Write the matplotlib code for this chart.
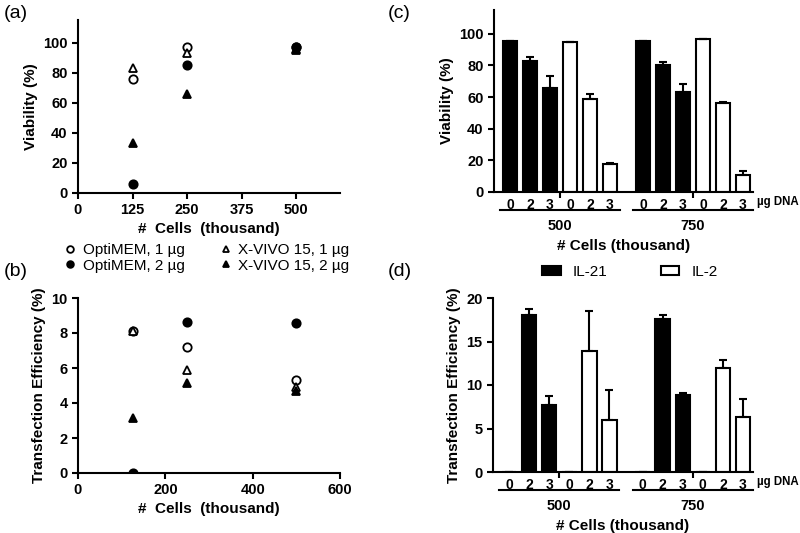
import numpy as np
import matplotlib
matplotlib.use('Agg')
import matplotlib.pyplot as plt
import matplotlib.transforms as mtransforms
from matplotlib.patches import Patch

plt.rcParams['font.family'] = ['Liberation Sans', 'DejaVu Sans']
plt.rcParams['axes.linewidth'] = 1.5

# scatter panels (a), (b)
cells_ab = [125, 250, 500]
series_names = ['OptiMEM, 1 µg', 'OptiMEM, 2 µg', 'X-VIVO 15, 1 µg', 'X-VIVO 15, 2 µg']
viab_opti1 = [76, 97, 97]
viab_opti2 = [6, 85, 97]
viab_xvivo1 = [83, 93, 96]
viab_xvivo2 = [33, 66, 95]
te_opti1 = [8.1, 7.2, 5.3]
te_opti2 = [0.0, 8.65, 8.55]
te_xvivo1 = [8.1, 5.9, 4.9]
te_xvivo2 = [3.15, 5.15, 4.7]

# bar panels (c), (d)
dna_labels = ['0', '2', '3', '0', '2', '3']
cell_groups = ['500', '750']
viab_il21 = [[95.5, 82.5, 66.0], [95.5, 80.5, 63.0]]
viab_il21_err = [[0, 3.0, 7.0], [0, 1.5, 5.5]]
viab_il2 = [[94.5, 59.0, 18.0], [96.5, 56.5, 10.5]]
viab_il2_err = [[0, 3.0, 0.5], [0, 0.5, 3.0]]
te_il21 = [[0.0, 18.0, 7.7], [0.0, 17.6, 8.8]]
te_il21_err = [[0, 0.7, 1.0], [0, 0.4, 0.3]]
te_il2 = [[0.05, 13.9, 6.0], [0.05, 12.0, 6.3]]
te_il2_err = [[0, 4.6, 3.4], [0, 0.9, 2.1]]

W, H = 800, 533
fig = plt.figure(figsize=(8, 5.33), dpi=100)


def px_axes(left, top, right, bottom):
    return fig.add_axes([left / W, 1 - bottom / H, (right - left) / W, (bottom - top) / H])


def style(ax):
    ax.spines['top'].set_visible(False)
    ax.spines['right'].set_visible(False)
    ax.tick_params(direction='out', width=1.5, length=4, labelsize=10.5)
    for lab in ax.get_xticklabels() + ax.get_yticklabels():
        lab.set_fontweight('bold')


mstyles = [dict(marker='o', mfc='white', ms=6), dict(marker='o', mfc='black', ms=6),
           dict(marker='^', mfc='white', ms=6), dict(marker='^', mfc='black', ms=6)]

# (a)
ax_a = px_axes(78, 20, 340, 193)
for vals, ms in zip([viab_opti1, viab_opti2, viab_xvivo1, viab_xvivo2], mstyles):
    ax_a.plot(cells_ab, vals, ls='none', mec='black', mew=1.3, **ms)
ax_a.set_xlim(0, 600)
ax_a.set_ylim(0, 115)
ax_a.set_xticks([0, 125, 250, 375, 500])
ax_a.set_yticks([0, 20, 40, 60, 80, 100])
ax_a.set_ylabel('Viability (%)', fontsize=11, fontweight='bold', labelpad=4)
ax_a.set_xlabel('#  Cells  (thousand)', fontsize=11, fontweight='bold', labelpad=3)
style(ax_a)

# (b)
ax_b = px_axes(78, 298, 340, 473)
handles = []
for vals, ms, name in zip([te_opti1, te_opti2, te_xvivo1, te_xvivo2], mstyles, series_names):
    h, = ax_b.plot(cells_ab, vals, ls='none', mec='black', mew=1.3, label=name, **ms)
    handles.append(h)
ax_b.set_xlim(0, 600)
ax_b.set_ylim(0, 10)
ax_b.set_xticks([0, 200, 400, 600])
ax_b.set_yticks([0, 2, 4, 6, 8, 10])
ax_b.set_ylabel('Transfection Efficiency (%)', fontsize=11, fontweight='bold', labelpad=4)
ax_b.set_xlabel('#  Cells  (thousand)', fontsize=11, fontweight='bold', labelpad=3)
style(ax_b)
fig.legend(handles, series_names, loc='center', bbox_to_anchor=(206 / W, 1 - 258 / H),
           ncol=2, frameon=False, fontsize=11, handletextpad=0.3, columnspacing=2.2,
           labelspacing=0.1, markerscale=0.8, handlelength=1.0)


def bar_panel(ax, il21, il21_err, il2, il2_err, ylim, yticks, ylabel):
    gap = 1.65
    xs_all = []
    for g in range(2):
        base = g * (6 + gap - 1)
        x21 = np.arange(3) + base
        x2 = np.arange(3, 6) + base
        ax.bar(x21, il21[g], width=0.72, color='black', edgecolor='black', lw=1.5)
        ax.bar(x2, il2[g], width=0.72, color='white', edgecolor='black', lw=1.5)
        ax.errorbar(x21, il21[g], yerr=[np.zeros(3), il21_err[g]], fmt='none',
                    ecolor='black', elinewidth=1.5, capsize=3, capthick=1.5)
        ax.errorbar(x2, il2[g], yerr=[np.zeros(3), il2_err[g]], fmt='none',
                    ecolor='black', elinewidth=1.5, capsize=3, capthick=1.5)
        xs_all.extend(list(x21) + list(x2))
    ax.set_xlim(-0.8, xs_all[-1] + 0.5)
    ax.set_ylim(*ylim)
    ax.set_yticks(yticks)
    ax.set_xticks(xs_all)
    ax.set_xticklabels(dna_labels * 2)
    ax.set_xticks([xs_all[2] + 0.5, xs_all[8] + 0.5], minor=True)
    ax.spines['top'].set_visible(False)
    ax.spines['right'].set_visible(False)
    ax.tick_params(axis='y', direction='out', width=1.5, length=4, labelsize=10.5)
    ax.tick_params(axis='x', which='major', length=0, labelsize=10, pad=4)
    ax.tick_params(axis='x', which='minor', direction='out', width=1.5, length=4)
    for lab in ax.get_xticklabels() + ax.get_yticklabels():
        lab.set_fontweight('bold')
    ax.set_ylabel(ylabel, fontsize=11, fontweight='bold', labelpad=4)
    trans = mtransforms.blended_transform_factory(ax.transData, ax.transAxes)
    hpx = ax.get_position().height * H
    wpx = ax.get_position().width * W
    ax.text(1 + 4 / wpx, -10 / hpx, 'µg DNA', transform=ax.transAxes, ha='left',
            va='center', fontsize=8.3, fontweight='bold')
    for g in range(2):
        xs = xs_all[g * 6:(g + 1) * 6]
        ax.plot([xs[0] - 0.5, xs[-1] + 0.5], [-18 / hpx] * 2, color='black', lw=1.5,
                transform=trans, clip_on=False)
        ax.text((xs[0] + xs[-1]) / 2, -34 / hpx, cell_groups[g], transform=trans,
                ha='center', va='center', fontsize=10.5, fontweight='bold')
    ax.text(0.5, -54 / hpx, '# Cells (thousand)', transform=ax.transAxes,
            ha='center', va='center', fontsize=11, fontweight='bold')


ax_c = px_axes(494, 10, 753, 192)
bar_panel(ax_c, viab_il21, viab_il21_err, viab_il2, viab_il2_err, (0, 115),
          [0, 20, 40, 60, 80, 100], 'Viability (%)')

ax_d = px_axes(493, 298, 753, 472)
bar_panel(ax_d, te_il21, te_il21_err, te_il2, te_il2_err, (0, 20),
          [0, 5, 10, 15, 20], 'Transfection Efficiency (%)')

fig.legend([Patch(facecolor='black', edgecolor='black', lw=1.5),
            Patch(facecolor='white', edgecolor='black', lw=1.5)],
           ['IL-21', 'IL-2'], loc='center', bbox_to_anchor=(630 / W, 1 - 272 / H),
           ncol=2, frameon=False, fontsize=11, columnspacing=3.5,
           handlelength=1.2, handleheight=0.6, handletextpad=0.8)

# panel labels
for lab, x, y in [('(a)', 4, 14), ('(b)', 4, 272), ('(c)', 388, 14), ('(d)', 388, 272)]:
    fig.text(x / W, 1 - y / H, lab, fontsize=14, ha='left', va='center')

fig.savefig('out.png', dpi=100)
